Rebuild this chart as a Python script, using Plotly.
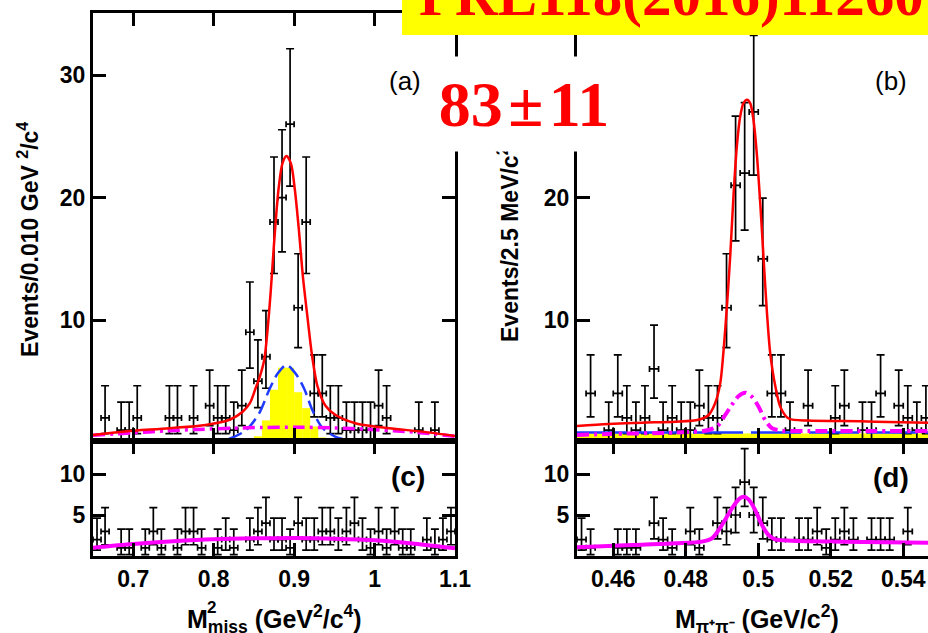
import math
import plotly.graph_objects as go

W, H = 928, 633

# ---------------- data ----------------
# (a)/(c): missing-mass-squared histograms, 0.010 GeV^2/c^4 bins
mm_bins = [0.655, 0.665, 0.675, 0.685, 0.695, 0.705, 0.715, 0.725, 0.735, 0.745,
           0.755, 0.765, 0.775, 0.785, 0.795, 0.805, 0.815, 0.825, 0.835, 0.845,
           0.855, 0.865, 0.875, 0.885, 0.895, 0.905, 0.915, 0.925, 0.935, 0.945,
           0.955, 0.965, 0.975, 0.985, 0.995, 1.005, 1.015, 1.025, 1.035, 1.045,
           1.055, 1.065, 1.075, 1.085, 1.095]
mm_signal = [0, 2, 0, 1, 1, 2, 0, 0, 0, 2,
             2, 0, 2, 0, 3, 2, 2, 1, 3, 9,
             5, 7, 18, 20, 26, 11, 18, 4, 4, 2,
             2, 1, 1, 1, 1, 3, 2, 0, 0, 0,
             1, 0, 1, 0, 0]
mm_sideband = [2, 3, 0, 1, 1, 0, 1, 3, 1, 0,
               1, 3, 3, 1, 0, 1, 2, 1, 0, 2,
               3, 4, 2, 2, 1, 4, 2, 2, 3, 3,
               2, 3, 4, 2, 1, 3, 1, 3, 1, 1,
               0, 2, 1, 2, 3]

# peaking background histogram (yellow)
mm_peak_bins = [0.855, 0.865, 0.875, 0.885, 0.895, 0.905, 0.915, 0.925, 0.935]
mm_peak_vals = [0.5, 1.8, 4.3, 6.1, 6.1, 4.1, 2.8, 1.3, 0.4]

# fit curves for (a)
fit_a_x = [0.650, 0.690, 0.745, 0.790, 0.820, 0.836, 0.845, 0.852, 0.857, 0.863,
           0.867, 0.871, 0.875, 0.8805, 0.8855, 0.8905, 0.896, 0.901, 0.906, 0.911,
           0.9165, 0.9225, 0.929, 0.939, 0.9516, 0.976, 1.018, 1.059, 1.100]
fit_a_y = [0.60, 0.89, 1.16, 1.43, 1.85, 2.5, 3.2, 4.4, 5.3, 6.8,
           9.2, 12.4, 16.2, 20.6, 22.8, 23.4, 22.8, 20.6, 17.3, 13.5,
           10.3, 7.0, 4.6, 3.0, 2.24, 1.57, 1.16, 0.88, 0.53]
bkg_a_x = [0.650, 0.700, 0.741, 0.780, 0.823, 0.860, 0.906, 0.950, 0.989, 1.051, 1.100]
bkg_a_y = [0.58, 0.78, 0.94, 1.06, 1.16, 1.22, 1.24, 1.18, 1.08, 0.83, 0.50]
kst_a_x = [0.7948, 0.8155, 0.8402, 0.8567, 0.8691, 0.8793, 0.8905, 0.9021, 0.9124,
           0.9226, 0.935, 0.9516, 0.9722, 0.9887]
kst_a_y = [0.0, 0.2, 1.0, 2.4, 4.3, 5.6, 6.33, 5.6, 4.4, 2.65, 1.2, 0.45, 0.15, 0.0]

# fit curve for (c)
fit_c_x = [0.65, 0.70, 0.75, 0.80, 0.85, 0.90, 0.95, 1.00, 1.05, 1.10]
fit_c_y = [1.0, 1.45, 1.8, 2.05, 2.15, 2.18, 2.1, 1.92, 1.5, 0.95]

# (b)/(d): M(pi+ pi-) histograms, 2.5 MeV/c^2 bins
mpp_bins = [0.45125, 0.45375, 0.45625, 0.45875, 0.46125, 0.46375, 0.46625, 0.46875,
            0.47125, 0.47375, 0.47625, 0.47875, 0.48125, 0.48375, 0.48625, 0.48875,
            0.49125, 0.49375, 0.49625, 0.49875, 0.50125, 0.50375, 0.50625, 0.50875,
            0.51125, 0.51375, 0.51625, 0.51875, 0.52125, 0.52375, 0.52625, 0.52875,
            0.53125, 0.53375, 0.53625, 0.53875, 0.54125, 0.54375, 0.54625]
mpp_signal = [0, 4, 0, 1, 4, 2, 1, 2, 6, 1,
              2, 1, 1, 3, 2, 2, 11, 21, 22, 27,
              15, 4, 4, 1, 0, 3, 0, 0, 2, 3,
              0, 1, 1, 4, 0, 3, 2, 1, 2]
mpp_sideband = [2, 1, 0, 0, 1, 1, 1, 0, 4, 2,
                1, 0, 3, 1, 0, 4, 3, 5, 9, 5,
                4, 2, 2, 0, 2, 2, 3, 1, 2, 3,
                2, 0, 2, 2, 2, 0, 3, 0, 0]

fit_b_x = [0.4500, 0.4587, 0.4679, 0.4771, 0.4835, 0.4863, 0.4881, 0.4895, 0.4904, 0.4914,
           0.4923, 0.4932, 0.4941, 0.4950, 0.4959, 0.4969, 0.4978, 0.4987, 0.4996, 0.5006,
           0.5015, 0.5024, 0.5033, 0.5047, 0.5061, 0.5084, 0.5139, 0.5231, 0.5323, 0.5469]
fit_b_y = [1.34, 1.50, 1.61, 1.69, 1.85, 2.24, 3.2, 4.8, 7.4, 11.3,
           15.4, 20.3, 24.2, 26.6, 27.7, 28.0, 27.7, 26.3, 23.6, 19.3,
           14.9, 10.6, 7.3, 4.6, 2.9, 1.95, 1.78, 1.75, 1.69, 1.61]
bkg_b_x = [0.4500, 0.4587, 0.4771, 0.4863, 0.4890, 0.4909, 0.4927, 0.4946, 0.4964,
           0.4982, 0.5001, 0.5019, 0.5038, 0.5065, 0.5139, 0.5323, 0.5469]
bkg_b_y = [0.6, 0.69, 0.8, 1.01, 1.42, 2.24, 3.06, 3.79, 4.06,
           3.74, 2.92, 1.83, 1.15, 0.96, 0.93, 0.93, 0.93]
flat_b_x = [0.4500, 0.5469]
flat_b_y = [0.80, 0.80]
peak_b_x = [0.4500, 0.5469]
peak_b_y = [0.72, 0.72]

fit_d_x = [0.4500, 0.4587, 0.4679, 0.4771, 0.48446, 0.48722, 0.4900, 0.49275, 0.49457,
           0.49595, 0.49733, 0.49917, 0.50102, 0.50284, 0.50469, 0.5093, 0.5231, 0.5469]
fit_d_y = [1.06, 1.22, 1.38, 1.54, 1.75, 2.15, 3.78, 5.81, 6.9,
           7.24, 6.9, 5.6, 3.78, 2.56, 2.03, 1.87, 1.75, 1.63]

mm_ticks = [0.7, 0.8, 0.9, 1.0, 1.1]
mm_ticktext = ["0.7", "0.8", "0.9", "1", "1.1"]
mpp_ticks = [0.46, 0.48, 0.50, 0.52, 0.54]
mpp_ticktext = ["0.46", "0.48", "0.5", "0.52", "0.54"]

# ---------------- helpers ----------------
def px(x):
    return x / W

def py(y):
    return 1 - y / H

def poisson_errors(n):
    """Asymmetric 68% Poisson interval (Gehrels approximation)."""
    lo = n * (1 - 1 / (9 * n) - 1 / (3 * math.sqrt(n))) ** 3
    hi = (n + 1) * (1 - 1 / (9 * (n + 1)) + 1 / (3 * math.sqrt(n + 1))) ** 3
    return hi - n, n - lo

def data_points(centers, counts, half_bin, xa, ya):
    xs, ys, up, dn = [], [], [], []
    for c, n in zip(centers, counts):
        if n > 0:
            u, d = poisson_errors(n)
            xs.append(c); ys.append(n); up.append(u); dn.append(d)
    return go.Scatter(
        x=xs, y=ys, mode="markers", xaxis=xa, yaxis=ya,
        marker=dict(size=2, color="black"),
        error_x=dict(type="constant", value=half_bin, width=3, thickness=1.7, color="black"),
        error_y=dict(type="data", array=up, arrayminus=dn, width=4, thickness=1.7, color="black"),
        showlegend=False, hoverinfo="skip")

def curve(x, y, xa, ya, color, width, dash="solid"):
    return go.Scatter(x=x, y=y, mode="lines", xaxis=xa, yaxis=ya,
                      line=dict(color=color, width=width, dash=dash, shape="spline", smoothing=0.8),
                      showlegend=False, hoverinfo="skip")

RED = "#ff0000"
BLUE = "#1f3bff"
MAG = "#ff00ff"
YEL = "#ffff00"
DASHDOT = "12px,5px,3px,5px"

fig = go.Figure()

# (a)
fig.add_trace(go.Bar(x=mm_peak_bins, y=mm_peak_vals, width=0.010, xaxis="x", yaxis="y",
                     marker=dict(color=YEL, line=dict(width=0)), showlegend=False, hoverinfo="skip"))
fig.add_trace(data_points(mm_bins, mm_signal, 0.005, "x", "y"))
fig.add_trace(curve(kst_a_x, kst_a_y, "x", "y", BLUE, 2.5, "14px,6px"))
fig.add_trace(curve(bkg_a_x, bkg_a_y, "x", "y", MAG, 3.5, DASHDOT))
fig.add_trace(curve(fit_a_x, fit_a_y, "x", "y", RED, 2.5))

# (c)
fig.add_trace(data_points(mm_bins, mm_sideband, 0.005, "x2", "y2"))
fig.add_trace(curve(fit_c_x, fit_c_y, "x2", "y2", MAG, 4))

# (b)
fig.add_trace(go.Scatter(x=peak_b_x, y=peak_b_y, mode="lines", fill="tozeroy", fillcolor=YEL,
                         line=dict(color=YEL, width=0), xaxis="x3", yaxis="y3",
                         showlegend=False, hoverinfo="skip"))
fig.add_trace(data_points(mpp_bins, mpp_signal, 0.00125, "x3", "y3"))
fig.add_trace(curve(flat_b_x, flat_b_y, "x3", "y3", BLUE, 2.5, "50px,8px"))
fig.add_trace(curve(bkg_b_x, bkg_b_y, "x3", "y3", MAG, 4, DASHDOT))
fig.add_trace(curve(fit_b_x, fit_b_y, "x3", "y3", RED, 2.5))

# (d)
fig.add_trace(data_points(mpp_bins, mpp_sideband, 0.00125, "x4", "y4"))
fig.add_trace(curve(fit_d_x, fit_d_y, "x4", "y4", MAG, 4))

# ---------------- axes ----------------
TICKFONT = dict(family="Liberation Sans, Arial, sans-serif", size=23, color="black", weight="bold")

def axis(**kw):
    d = dict(showline=True, linewidth=3, linecolor="black", ticks="inside", ticklen=13,
             tickwidth=3, tickcolor="black", showgrid=False, zeroline=False,
             tickfont=TICKFONT, automargin=False)
    d.update(kw)
    return d

left_dom = [px(93), px(455)]
right_dom = [px(577), 1.0]
top_dom = [py(441), py(13)]
bot_dom = [py(556), py(441)]
top_range = [(442.4 - 441) / 12.24, (442.4 - 13) / 12.24]
bot_range = [0, (556 - 441) / 8.2]
right_range = [0.45, 0.45 + (928 - 577) / 3625]

fig.update_layout(
    width=W, height=H, margin=dict(l=0, r=0, t=0, b=0),
    paper_bgcolor="white", plot_bgcolor="white", showlegend=False,
    xaxis=axis(domain=left_dom, range=[0.65, 1.1], anchor="y", mirror="ticks",
               tickvals=mm_ticks[:-1], showticklabels=False),
    yaxis=axis(domain=top_dom, range=top_range, anchor="x", mirror="ticks",
               tickvals=[10, 20, 30]),
    xaxis2=axis(domain=left_dom, range=[0.65, 1.1], anchor="y2", mirror="ticks",
                tickvals=mm_ticks, ticktext=mm_ticktext),
    yaxis2=axis(domain=bot_dom, range=bot_range, anchor="x2", mirror="ticks",
                tickvals=[5, 10]),
    xaxis3=axis(domain=right_dom, range=right_range, anchor="y3", mirror="ticks",
                tickvals=mpp_ticks, showticklabels=False),
    yaxis3=axis(domain=top_dom, range=top_range, anchor="x3", tickvals=[10, 20, 30]),
    xaxis4=axis(domain=right_dom, range=right_range, anchor="y4", mirror="ticks",
                tickvals=mpp_ticks, ticktext=mpp_ticktext),
    yaxis4=axis(domain=bot_dom, range=bot_range, anchor="x4", tickvals=[5, 10]),
)

# ---------------- overlays ----------------
fig.add_shape(type="rect", xref="paper", yref="paper", x0=px(402), x1=1.0, y0=py(35), y1=1.0,
              fillcolor=YEL, line=dict(width=0), layer="above")

SANS = "Liberation Sans, Arial, sans-serif"
SERIF = "Liberation Serif, Times New Roman, serif"

def label(text, x, y, size, weight="normal", angle=0, family=SANS, color="black",
          xanchor="center", yanchor="middle", **extra):
    fig.add_annotation(text=text, xref="paper", yref="paper", x=px(x), y=py(y),
                       xanchor=xanchor, yanchor=yanchor, showarrow=False, textangle=angle,
                       font=dict(family=family, size=size, color=color, weight=weight), **extra)

label("PRL118(2016)112601", 417, 30, 59, "bold", family=SERIF, color=RED,
      xanchor="left", yanchor="bottom")

label("(a)", 405, 81, 26)
label("(b)", 891, 81, 26)
label("(c)", 408, 476, 28, "bold")
label("(d)", 891, 477, 28, "bold")

label("Events/0.010 GeV <sup>2</sup>/c<sup>4</sup>", 28, 240, 23, "bold", angle=-90)
label("Events/2.5 MeV/c<sup>2</sup>", 508, 244, 23, "bold", angle=-90)

label("M<sub>miss</sub> (GeV<sup>2</sup>/c<sup>4</sup>)", 274, 619, 25, "bold")
label("2", 211, 607, 17, "bold")
label("M<sub>\u03c0\u207a\u03c0\u207b</sub> (GeV/c<sup>2</sup>)", 757, 619, 25, "bold")

# yield label on a white box, drawn last so it masks what lies beneath
label("83\u200a\u00b1\u200a11", 524, 104, 64, "bold", family=SERIF, color=RED,
      bgcolor="white", width=184, height=94, borderpad=0, align="center", valign="middle")

fig.write_html("out.html")
